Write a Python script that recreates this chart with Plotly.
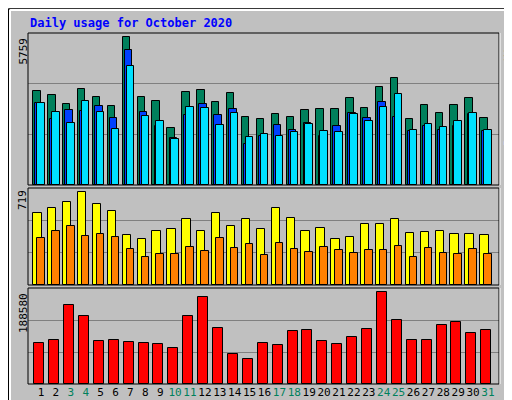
import plotly.graph_objects as go

days = list(range(1, 32))
hits = [3671,3514,3161,3749,3436,3083,5759,3436,3279,2221,3632,3710,3240,3593,2652,2574,
        2770,2652,2926,2965,2965,3397,3005,3828,4180,2574,3122,2809,3122,3397,2613]
files = [3200,2574,2926,2887,3083,2613,5238,2848,2299,1829,2731,3161,2731,2965,1594,1908,
         2338,2143,2417,1908,2299,2809,2613,3240,2652,2104,2299,2143,2299,2770,2104]
pages = [3200,2848,2417,3279,2848,2182,4650,2691,2495,1790,3044,3005,2338,2809,1868,1986,
         1908,2065,2378,2104,2065,2770,2495,3044,3553,2143,2378,2260,2495,2809,2143]
visits = [562,594,648,719,632,578,390,359,422,437,516,422,562,461,516,437,601,523,422,445,
          359,375,476,476,516,406,414,422,398,398,390]
sites = [367,422,461,383,398,375,281,219,242,242,297,265,367,289,320,234,328,281,258,297,
         273,250,273,273,305,219,289,250,242,281,242]
kbytes = [84968,91186,161647,140923,89113,91186,87041,84968,82896,74606,140923,178226,116054,
          62172,51810,84968,80824,109837,111910,89113,82896,97403,113982,188580,132634,91186,
          91186,122272,128489,105692,111910]
weekend = {3,4,10,11,17,18,24,25,31}
title = "Daily usage for October 2020"

GREEN, BLUE, CYAN = "#00805c", "#0040ff", "#00e0ff"
YEL, ORA, RED = "#ffff00", "#ff8000", "#ff0000"
MONO = "DejaVu Sans Mono"

fig = go.Figure()
def bar(y, color, off, w, ax):
    fig.add_trace(go.Bar(x=days, y=y, offset=off, width=w, marker=dict(color=color, line=dict(color="black", width=1)),
                         xaxis="x", yaxis=ax, showlegend=False))
bar(hits, GREEN, -0.52, 0.5, "y")
bar(files, BLUE, -0.37, 0.5, "y")
bar(pages, CYAN, -0.25, 0.5, "y")
bar(visits, YEL, -0.52, 0.56, "y2")
bar(sites, ORA, -0.25, 0.5, "y2")
bar(kbytes, RED, -0.45, 0.67, "y3")

xr = [0.128, 31.74]
ticktext = [f"<span style='color:{GREEN if d in weekend else 'black'}'>{d}</span>" for d in days]
def yax(dom, mx):
    return dict(domain=dom, range=[0, mx], tickvals=[mx/3, 2*mx/3], showticklabels=False,
                gridcolor="#808080", gridwidth=1, zeroline=False, fixedrange=True, ticks="")
fig.update_layout(
    width=512, height=400, margin=dict(l=0, r=0, t=0, b=0),
    paper_bgcolor="#c0c0c0", plot_bgcolor="#c0c0c0", barmode="overlay", bargap=0,
    xaxis=dict(domain=[20/512, 491/512], range=xr, tickvals=days, ticktext=ticktext, anchor="y3",
               tickangle=0, showgrid=False, zeroline=False, ticks="", ticklen=0,
               tickfont=dict(family=MONO, size=11)),
    yaxis=yax([1-177/400, 1-25/400], 5916),
    yaxis2=yax([1-277/400, 1-180/400], 753),
    yaxis3=yax([1-376/400, 1-280/400], 197490),
)

shapes = []
shapes.append(dict(type="rect", xref="paper", yref="paper", x0=0.001, x1=0.999, y0=0.002, y1=0.998,
                   line=dict(color="black", width=1)))
shapes.append(dict(type="line", xref="paper", yref="paper", x0=2/512, x1=2/512, y0=0.005, y1=0.995, line=dict(color="white", width=2)))
shapes.append(dict(type="line", xref="paper", yref="paper", x0=0.004, x1=0.996, y0=1-2/400, y1=1-2/400, line=dict(color="white", width=2)))
shapes.append(dict(type="line", xref="paper", yref="paper", x0=1-4/512, x1=1-4/512, y0=0.005, y1=0.99, line=dict(color="#808080", width=5)))
shapes.append(dict(type="line", xref="paper", yref="paper", x0=0.005, x1=0.995, y0=4/400, y1=4/400, line=dict(color="#808080", width=5)))
for top, bot in [(25, 177), (180, 277), (280, 376)]:
    shapes.append(dict(type="rect", xref="paper", yref="paper", x0=20/512, x1=491/512,
                       y0=1-bot/400, y1=1-top/400, line=dict(color="black", width=1)))
    shapes.append(dict(type="line", xref="paper", yref="paper", x0=492/512, x1=492/512,
                       y0=1-bot/400, y1=1-top/400, line=dict(color="white", width=1)))
fig.update_layout(shapes=shapes)

ann = [dict(text=f"<b>{title}</b>", x=20/512, y=1-15/400, xanchor="left", yanchor="middle",
            font=dict(family=MONO, size=12, color="#0000ff"))]
for txt, ytop in [("5759", 28), ("719", 180), ("188580", 283)]:
    ann.append(dict(text=txt, textangle=-90, x=15/512, y=1-ytop/400, xanchor="center", yanchor="top",
                    font=dict(family=MONO, size=11, color="black")))
right_labels = [("Pages", CYAN, 122), ("/", "black", 100), ("Files", BLUE, 83), ("/", "black", 58),
                ("Hits", GREEN, 40), ("Sites", ORA, 261), ("/", "black", 239), ("Visits", YEL, 217),
                ("KBytes", RED, 359)]
for txt, col, yc in right_labels:
    ann.append(dict(text=txt, textangle=-90, x=501/512, y=1-yc/400, xanchor="center", yanchor="middle",
                    font=dict(family=MONO, size=11, color=col)))
for a in ann:
    a.update(xref="paper", yref="paper", showarrow=False)
fig.update_layout(annotations=ann)
fig.write_html("out.html")
